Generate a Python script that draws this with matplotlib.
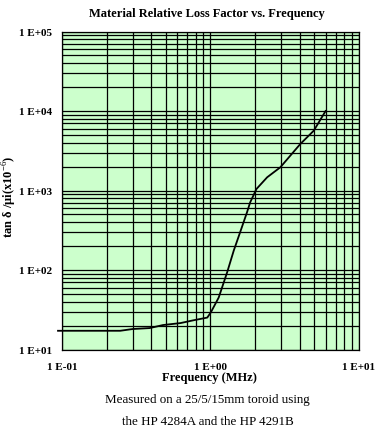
import matplotlib
matplotlib.use("Agg")
import matplotlib.pyplot as plt
from matplotlib.ticker import LogLocator, FixedLocator, NullFormatter

freq_mhz = [0.094, 0.247, 0.30, 0.39, 0.48, 0.63, 0.77, 0.955, 1.01, 1.14, 1.30,
            1.44, 1.59, 1.77, 1.86, 2.05, 2.42, 2.97, 4.05, 4.99, 6.0]
loss_factor = [17.2, 17.2, 18.1, 18.6, 20.3, 21.5, 23.3, 25.2, 29.4, 45, 93.5,
               175, 298, 532, 711, 1045, 1466, 1959, 3846, 5650, 10000]

x_ticks = [0.1, 1.0, 10.0]
x_tick_labels = ["1 E-01", "1 E+00", "1 E+01"]
y_ticks = [10, 100, 1000, 10000, 100000]
y_tick_labels = ["1 E+01", "1 E+02", "1 E+03", "1 E+04", "1 E+05"]

title = "Material Relative Loss Factor vs. Frequency"
xlabel = "Frequency (MHz)"
ylabel = "tan δ /μi(x10$^{-6}$)"
note_lines = ["Measured on a 25/5/15mm toroid using", "the HP 4284A and the HP 4291B"]

serif = ["Liberation Serif", "DejaVu Serif"]
plt.rcParams["font.family"] = serif
plt.rcParams["mathtext.fontset"] = "custom"
plt.rcParams["mathtext.rm"] = "Liberation Serif"

W, H = 380, 431
fig = plt.figure(figsize=(W / 100, H / 100), dpi=100)
ax = fig.add_axes([62 / W, 1 - 350.5 / H, (358.5 - 62) / W, (350.5 - 32.5) / H])
ax.set_facecolor("#ccffcc")
ax.set_xscale("log")
ax.set_yscale("log")
ax.set_xlim(0.1, 10)
ax.set_ylim(10, 100000)

ax.plot(freq_mhz, loss_factor, color="black", lw=1.3, clip_on=False, zorder=5)

ax.xaxis.set_major_locator(FixedLocator(x_ticks))
ax.yaxis.set_major_locator(FixedLocator(y_ticks))
ax.xaxis.set_minor_locator(LogLocator(base=10, subs=range(2, 10), numticks=20))
ax.yaxis.set_minor_locator(LogLocator(base=10, subs=range(2, 10), numticks=20))
ax.xaxis.set_minor_formatter(NullFormatter())
ax.yaxis.set_minor_formatter(NullFormatter())
ax.set_xticklabels(x_tick_labels, fontsize=8, fontweight="bold")
ax.set_yticklabels(y_tick_labels, fontsize=8, fontweight="bold")
ax.tick_params(which="both", length=0)
ax.tick_params(axis="x", pad=9)
ax.tick_params(axis="y", pad=7)

ax.grid(True, which="both", color="black", lw=0.9)
for s in ax.spines.values():
    s.set_color("black")
    s.set_linewidth(0.9)

fig.text(207 / W, 1 - 14 / H, title, ha="center", va="center", fontsize=9, fontweight="bold")
fig.text(209 / W, 1 - 378 / H, xlabel, ha="center", va="center", fontsize=9, fontweight="bold")
fig.text(10 / W, 1 - 197 / H, ylabel, ha="center", va="center", rotation=90, fontsize=9, fontweight="bold")
fig.text(207 / W, 1 - 400 / H, note_lines[0], ha="center", va="center", fontsize=9.4)
fig.text(208 / W, 1 - 422 / H, note_lines[1], ha="center", va="center", fontsize=9.4)

fig.savefig("out.png", dpi=100, facecolor="white")
